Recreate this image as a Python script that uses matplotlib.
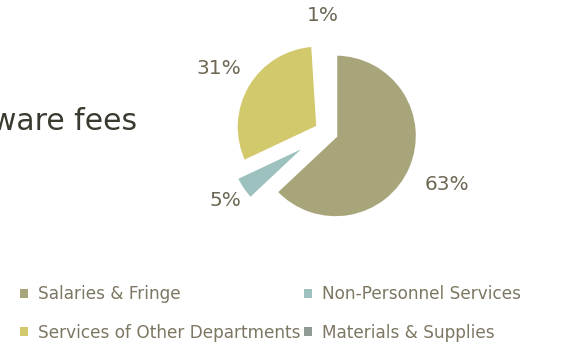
import numpy as np
import matplotlib.pyplot as plt
from matplotlib.patches import Patch

categories = ['Salaries & Fringe', 'Non-Personnel Services',
              'Services of Other Departments', 'Materials & Supplies']
shares = [63, 5, 31, 1]
pct_labels = ['63%', '5%', '31%', '1%']

colours = ['#a9a57b', '#9dc1bf', '#d2c96c', '#8f9a93']
explode = [0.12, 0.24, 0.12, 0.12]
label_dist = [1.48, 1.25, 1.40, 1.3]

text_col = '#6e6754'
legend_col = '#7d7662'

plt.rcParams['font.family'] = ['DejaVu Sans']

fig = plt.figure(figsize=(5.82, 3.44), dpi=100)

# partial slide title cut by the left edge
fig.text(137 / 582, 1 - 122 / 344, 'Software fees', ha='right', va='center',
         fontsize=21.5, color='#3b3a30')

ax = fig.add_axes([203.5 / 582, 89 / 344, 246 / 582, 246 / 344])
wedges, _ = ax.pie(shares, colors=colours, explode=explode, startangle=90,
                   counterclock=False,
                   wedgeprops=dict(edgecolor='white', linewidth=2.5))
# the 1% sliver is swallowed by the white border in the original
wedges[3].set_linewidth(6)
ax.set_xlim(-1.5, 1.5)
ax.set_ylim(-1.5, 1.5)
ax.set_aspect('equal')
ax.axis('off')

for w, lab, ex, ld in zip(wedges, pct_labels, explode, label_dist):
    ang = np.deg2rad((w.theta1 + w.theta2) / 2)
    cx = (ex + ld) * np.cos(ang)
    cy = (ex + ld) * np.sin(ang)
    ax.text(cx, cy, lab, ha='center', va='center', fontsize=14.5,
            color=text_col, clip_on=False)

# legend laid out row by row like the original
order = [0, 2, 1, 3]
handles = [Patch(facecolor=colours[i], edgecolor='none') for i in order]
labels = [categories[i] for i in order]
leg = fig.legend(handles, labels, ncol=2, loc='upper left',
                 bbox_to_anchor=(12 / 582, 1 - 277 / 344), frameon=False,
                 fontsize=12.2, handlelength=0.42, handleheight=0.42,
                 handletextpad=0.6, columnspacing=0.25, labelspacing=1.2,
                 borderpad=0)
for t in leg.get_texts():
    t.set_color(legend_col)

fig.savefig('out.png', dpi=100)
